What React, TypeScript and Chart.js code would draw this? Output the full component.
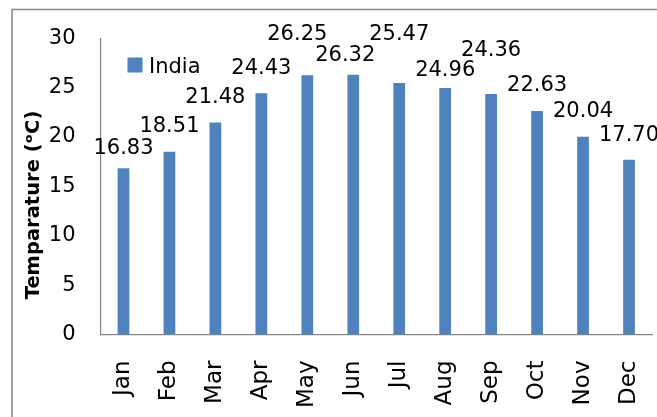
import React, { useEffect, useRef } from 'react';
import { Chart, registerables } from 'chart.js';

Chart.register(...registerables);

const months = ['Jan', 'Feb', 'Mar', 'Apr', 'May', 'Jun', 'Jul', 'Aug', 'Sep', 'Oct', 'Nov', 'Dec'];
const temps = [16.83, 18.51, 21.48, 24.43, 26.25, 26.32, 25.47, 24.96, 24.36, 22.63, 20.04, 17.7];
const seriesName = 'India';
const yMin = 0;
const yMax = 30;
const yStep = 5;
const yTitle = 'Temparature (ᵒC)';

// data-label nudges (Excel moved some labels to avoid overlaps)
const labelShiftX = [0, 0, 0, 0, -10, -8, 0, 0, 0, 0, 0, 0];
const labelLift = [22, 27, 27, 27, 43, 21, 51, 20, 46, 28, 27, 26];

const FONT = '"DejaVu Sans", sans-serif';
const BAR = '#4F81BD';
const AXIS = '#868686';

const decorPlugin = {
  id: 'decor',
  beforeDraw(chart: any) {
    const ctx = chart.ctx;
    ctx.save();
    ctx.strokeStyle = '#8c8c8c';
    ctx.lineWidth = 1.6;
    ctx.strokeRect(12, 9.5, 900, 700);
    ctx.restore();
  },
  afterDatasetsDraw(chart: any) {
    const ctx = chart.ctx;
    const meta = chart.getDatasetMeta(0);
    const ds = chart.data.datasets[0];
    ctx.save();
    ctx.fillStyle = '#000';
    ctx.font = `21px ${FONT}`;
    ctx.textAlign = 'center';
    ctx.textBaseline = 'alphabetic';
    meta.data.forEach((el: any, i: number) => {
      const v = ds.data[i] as number;
      ctx.fillText(v.toFixed(2), el.x + labelShiftX[i], el.y - labelLift[i] + 7.6);
    });
    // legend
    ctx.fillStyle = ds.backgroundColor;
    ctx.fillRect(127.5, 57.5, 15, 15);
    ctx.fillStyle = '#000';
    ctx.textAlign = 'left';
    ctx.fillText(ds.label, 149, 65 + 7.6);
    // y title
    ctx.font = `bold 19.5px ${FONT}`;
    ctx.translate(38.8, 205);
    ctx.rotate(-Math.PI / 2);
    ctx.textAlign = 'center';
    ctx.fillText(yTitle, 0, 0);
    ctx.restore();
  },
};

export default function App() {
  const ref = useRef<HTMLCanvasElement | null>(null);
  useEffect(() => {
    if (!ref.current) return;
    const chart = new Chart(ref.current, {
      type: 'bar',
      data: {
        labels: months,
        datasets: [
          {
            label: seriesName,
            data: temps,
            backgroundColor: BAR,
            borderWidth: 0,
            barPercentage: 0.255,
            categoryPercentage: 1,
          },
        ],
      },
      options: {
        responsive: false,
        animation: false,
        events: [],
        layout: { padding: { left: 0, top: 38.3, right: 5, bottom: 0 } },
        plugins: { legend: { display: false }, tooltip: { enabled: false } },
        scales: {
          x: {
            grid: { display: false, drawTicks: false },
            border: { display: true, color: AXIS, width: 1.2 },
            ticks: {
              color: '#000',
              font: { family: FONT, size: 23 },
              maxRotation: 90,
              minRotation: 90,
              autoSkip: false,
              padding: 26,
            },
            afterFit: (s: any) => {
              s.height = 82.5;
              s.paddingLeft = 0;
              s.paddingRight = 0;
            },
          },
          y: {
            min: yMin,
            max: yMax,
            grid: { display: false, drawTicks: false },
            border: { display: true, color: AXIS, width: 1.2 },
            ticks: {
              stepSize: yStep,
              color: '#000',
              font: { family: FONT, size: 21 },
              padding: 25,
            },
            afterFit: (s: any) => {
              s.width = 100.5;
              s.paddingTop = 0;
              s.paddingBottom = 0;
            },
          },
        },
      },
      plugins: [decorPlugin],
    });
    return () => chart.destroy();
  }, []);
  return (
    <div style={{ position: 'fixed', left: 0, top: 0, width: 657, height: 417, background: '#fff' }}>
      <canvas ref={ref} width={657} height={417} style={{ width: 657, height: 417, display: 'block' }} />
    </div>
  );
}
